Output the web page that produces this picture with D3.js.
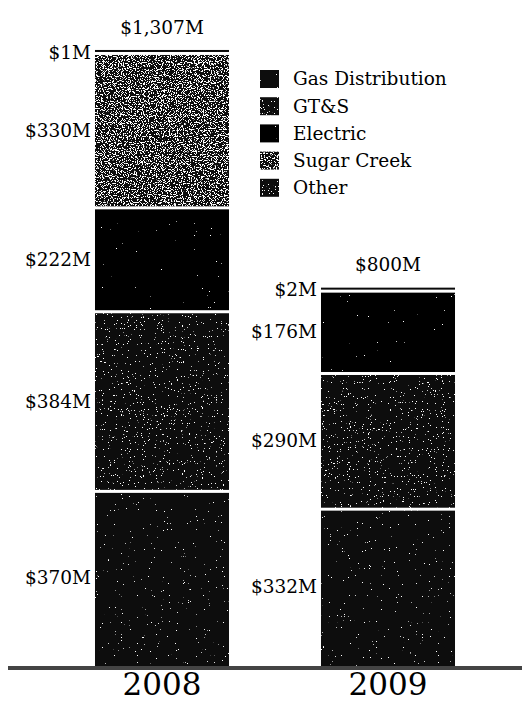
<!DOCTYPE html>
<html>
<head>
<meta charset="utf-8">
<script src="https://cdn.jsdelivr.net/npm/d3@7"></script>
<style>
  body { margin: 0; background: #fff; }
  text { font-family: "DejaVu Serif", serif; fill: #000; }
</style>
</head>
<body>
<svg class="canvas" width="522" height="708"></svg>
<script>
const years = ["2008", "2009"];
const segments = ["Gas Distribution", "GT&S", "Electric", "Sugar Creek", "Other"];
const gasDistribution = [370, 332];
const gts = [384, 290];
const electric = [222, 176];
const sugarCreek = [330, 0];
const other = [1, 2];

// fill + speckle threshold per segment
const segFill = ["#070707", "#0a0a0a", "#050505", "#0c0c0c", "#0a0a0a"];
const segSpeck = [0.76, 0.71, 0.80, 0.555, 0.70];

const svg = d3.select(".canvas");
const defs = svg.append("defs");

segments.forEach((s, i) => {
  const f = defs.append("filter")
    .attr("id", "speck_" + i)
    .attr("x", 0).attr("y", 0).attr("width", 1).attr("height", 1);
  f.append("feTurbulence")
    .attr("type", "fractalNoise")
    .attr("baseFrequency", 0.85)
    .attr("numOctaves", 2)
    .attr("seed", i + 2)
    .attr("result", "n");
  f.append("feColorMatrix")
    .attr("in", "n")
    .attr("type", "matrix")
    .attr("values", `0 0 0 0 1  0 0 0 0 1  0 0 0 0 1  30 0 0 0 ${-30 * segSpeck[i]}`)
    .attr("result", "s");
  f.append("feComposite")
    .attr("in", "s").attr("in2", "SourceGraphic")
    .attr("operator", "in").attr("result", "sp");
  const m = f.append("feMerge");
  m.append("feMergeNode").attr("in", "SourceGraphic");
  m.append("feMergeNode").attr("in", "sp");
});

const table = years.map((yr, j) => ({
  year: yr,
  "Gas Distribution": gasDistribution[j],
  "GT&S": gts[j],
  "Electric": electric[j],
  "Sugar Creek": sugarCreek[j],
  "Other": other[j]
}));
const totals = table.map(d => d3.sum(segments, k => d[k]));

const series = d3.stack().keys(segments)(table);

const x = d3.scaleBand()
  .domain(years)
  .range([49, 501])
  .paddingInner(0.407)
  .paddingOuter(0.2035);

const y = d3.scaleLinear()
  .domain([0, d3.max(totals)])
  .range([666, 54.5]);

const gap = 3;
const minH = 2;

const layer = svg.append("g")
  .selectAll("g")
  .data(series)
  .enter()
  .append("g");

layer.selectAll("rect")
  .data((d, i) => d.map(p => ({ p: p, year: p.data.year, i: i })).filter(o => o.p[1] - o.p[0] > 0))
  .enter()
  .append("rect")
  .attr("fill", d => segFill[d.i])
  .attr("x", d => x(d.year))
  .attr("width", x.bandwidth())
  .each(function (d) {
    let top = y(d.p[1]);
    let bot = y(d.p[0]) - (d.p[0] > 0 ? gap : 0);
    if (bot - top < minH) top = bot - minH;
    const r = d3.select(this).attr("y", top).attr("height", bot - top);
    if (bot - top > 6) r.attr("filter", `url(#speck_${d.i})`);
  });

// value labels left of each segment
const labels = [];
series.forEach(s => s.forEach(p => {
  if (p[1] - p[0] > 0) labels.push({ year: p.data.year, v: p[1] - p[0], mid: (p[0] + p[1]) / 2 });
}));

svg.append("g")
  .selectAll("text")
  .data(labels)
  .enter()
  .append("text")
  .attr("x", d => x(d.year) - 4)
  .attr("y", d => d.v < 10 ? y(d.mid) - 2.5 : y(d.mid) - 2)
  .attr("dy", "0.35em")
  .attr("text-anchor", "end")
  .style("font-size", "18.5px")
  .text(d => "$" + d3.format(",")(d.v) + "M");

// totals above bars
svg.append("g")
  .selectAll("text")
  .data(years)
  .enter()
  .append("text")
  .attr("x", d => x(d) + x.bandwidth() / 2)
  .attr("y", (d, j) => y(totals[j]) - 27)
  .attr("dy", "0.35em")
  .attr("text-anchor", "middle")
  .style("font-size", "18.5px")
  .text((d, j) => "$" + d3.format(",")(totals[j]) + "M");

// baseline
svg.append("line")
  .attr("x1", 8).attr("x2", 522)
  .attr("y1", 668).attr("y2", 668)
  .style("stroke", "#444")
  .style("stroke-width", 4);

// year axis
const xAxis = svg.append("g")
  .attr("transform", "translate(0,670)")
  .call(d3.axisBottom(x).tickSize(0).tickPadding(3));
xAxis.select(".domain").remove();
xAxis.selectAll("text")
  .style("font-family", "DejaVu Serif, serif")
  .style("font-size", "31px")
  .attr("fill", "#000");

// legend
const legend = svg.append("g")
  .selectAll("g")
  .data(segments)
  .enter()
  .append("g")
  .attr("transform", (d, i) => `translate(260,${79 + i * 27.2})`);

legend.append("rect")
  .attr("x", 0).attr("y", -9)
  .attr("width", 19).attr("height", 18)
  .attr("fill", (d, i) => segFill[i])
  .attr("filter", (d, i) => `url(#speck_${i})`);

legend.append("text")
  .attr("x", 33)
  .attr("dy", "0.35em")
  .style("font-size", "18.5px")
  .text(d => d);
</script>
</body>
</html>
